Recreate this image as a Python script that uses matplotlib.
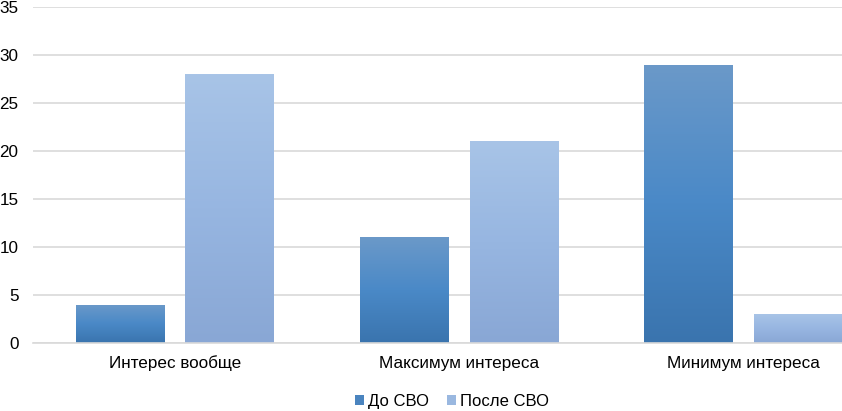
import matplotlib.pyplot as plt
import numpy as np
from matplotlib.colors import LinearSegmentedColormap
from matplotlib.patches import Patch

categories = ['Интерес вообще', 'Максимум интереса', 'Минимум интереса']
before = [4, 11, 29]
after = [28, 21, 3]
series_names = ['До СВО', 'После СВО']
y_ticks = [0, 5, 10, 15, 20, 25, 30, 35]

plt.rcParams['font.family'] = ['Liberation Sans', 'DejaVu Sans']

dark_cmap = LinearSegmentedColormap.from_list('dark', ['#3a74ae', '#4a89c7', '#6b99c9'])
light_cmap = LinearSegmentedColormap.from_list('light', ['#89a7d5', '#97b6e1', '#a8c4e7'])

fig = plt.figure(figsize=(8.42, 4.11), dpi=100)
# the reference is cropped on the right, so the axes run past the figure edge
ax = fig.add_axes([32.5 / 842, 68 / 411, 853 / 842, 336 / 411])

x = np.arange(len(categories))
width = 0.31
offset = 0.193


def gradient_bars(xs, heights, cmap):
    bars = ax.bar(xs, heights, width, color='none', zorder=2)
    grad = np.linspace(0, 1, 256).reshape(-1, 1)
    for bar in bars:
        bx, by = bar.get_x(), bar.get_y()
        bw, bh = bar.get_width(), bar.get_height()
        img = ax.imshow(grad, cmap=cmap, origin='lower', aspect='auto',
                        extent=[bx, bx + bw, by, by + bh], zorder=2)
        img.set_clip_path(bar)
    return bars


gradient_bars(x - offset, before, dark_cmap)
gradient_bars(x + offset, after, light_cmap)

ax.set_xlim(-0.5, 2.5)
ax.set_ylim(0, 35)
ax.set_yticks(y_ticks)
ax.set_xticks(x)
ax.set_xticklabels(categories)
ax.grid(axis='y', color='#d9d9d9', linewidth=1.2, zorder=0)
ax.set_axisbelow(True)
for side in ['top', 'right', 'left']:
    ax.spines[side].set_visible(False)
ax.spines['bottom'].set_color('#d9d9d9')
ax.spines['bottom'].set_linewidth(1.2)
ax.tick_params(axis='both', length=0, labelsize=12.3, colors='#000000')
ax.tick_params(axis='y', pad=10)
ax.tick_params(axis='x', pad=9)

handles = [Patch(facecolor='#4a84bf'), Patch(facecolor='#9ab8e0')]
fig.legend(handles, series_names, loc='center', bbox_to_anchor=(452 / 842, 1 - 401 / 411),
           ncol=2, frameon=False, fontsize=12, handlelength=0.5, handleheight=0.55,
           handletextpad=0.25, columnspacing=1.1)

fig.savefig('out.png', dpi=100)
